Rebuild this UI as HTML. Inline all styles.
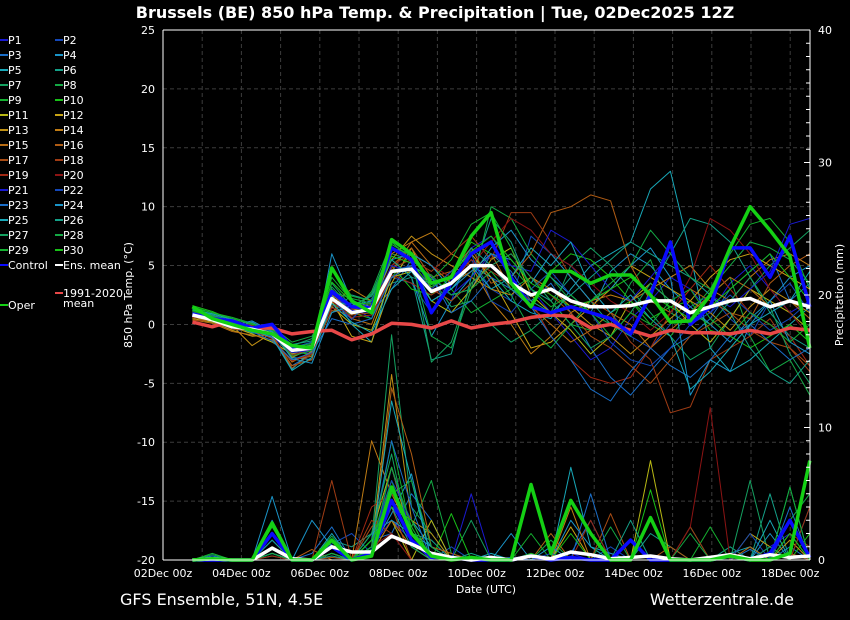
<!DOCTYPE html>
<html><head><meta charset="utf-8">
<style>
body{margin:0;background:#000;width:850px;height:620px;overflow:hidden;font-family:"Liberation Sans","DejaVu Sans",sans-serif;}
svg{position:absolute;left:0;top:0}
</style></head>
<body>
<svg id="chart" width="850" height="620" xmlns="http://www.w3.org/2000/svg">
<rect x="0" y="0" width="850" height="620" fill="#000"/>
<text x="435" y="18" fill="#fff" font-size="16" font-weight="bold" text-anchor="middle" font-family="DejaVu Sans, sans-serif">Brussels  (BE)  850 hPa Temp. &amp; Precipitation | Tue, 02Dec2025 12Z</text>
<g id="grid"></g>
<g id="series"></g>
<g id="axes"></g>
<g id="legend"></g>
<text x="132" y="295" fill="#fff" font-size="11" text-anchor="middle" transform="rotate(-90 132 295)" font-family="DejaVu Sans, sans-serif">850 hPa Temp. (°C)</text>
<text x="843" y="295" fill="#fff" font-size="11" text-anchor="middle" transform="rotate(-90 843 295)" font-family="DejaVu Sans, sans-serif">Precipitation (mm)</text>
<text x="486" y="593" fill="#fff" font-size="11" text-anchor="middle" font-family="DejaVu Sans, sans-serif">Date (UTC)</text>
<text x="120" y="605" fill="#fff" font-size="16" font-family="DejaVu Sans, sans-serif">GFS Ensemble, 51N, 4.5E</text>
<text x="794" y="605" fill="#fff" font-size="16" text-anchor="end" font-family="DejaVu Sans, sans-serif">Wetterzentrale.de</text>
</svg>
<script>
const xTickLabels=["02Dec 00z","04Dec 00z","06Dec 00z","08Dec 00z","10Dec 00z","12Dec 00z","14Dec 00z","16Dec 00z","18Dec 00z"];
const yTicks=[25,20,15,10,5,0,-5,-10,-15,-20];
const y2Ticks=[40,30,20,10,0];
const ensMean=[0.8,0.4,-0.2,-0.4,-0.8,-2.2,-2.0,2.2,1.0,1.3,4.5,4.7,2.8,3.5,5.0,5.0,3.5,2.5,3.0,2.0,1.5,1.5,1.6,2.0,2.0,1.0,1.5,2.0,2.2,1.5,2.0,1.5];
const control=[0.9,0.5,0.3,-0.3,0.0,-2.0,-2.0,2.8,1.5,1.4,6.5,5.5,1.0,3.5,6.0,7.0,4.0,1.5,1.0,1.5,1.0,0.5,-0.8,2.5,7.0,0.0,1.5,6.5,6.5,4.0,7.5,1.5];
const oper=[1.5,0.5,0.0,-0.5,-0.8,-1.8,-2.0,4.8,2.0,1.0,7.2,6.0,3.5,4.0,7.5,9.5,3.5,1.5,4.5,4.5,3.5,4.2,4.2,2.5,0.2,0.3,2.5,6.5,10.0,8.0,5.8,-2.0];
const clim=[0.2,-0.2,0.3,-0.3,-0.3,-0.8,-0.6,-0.5,-1.3,-0.8,0.1,0.0,-0.3,0.3,-0.3,0.0,0.2,0.6,0.8,0.7,-0.3,0.0,-0.5,-1.0,-0.5,-0.7,-0.7,-0.8,-0.5,-0.8,-0.3,-0.5];
const pert=[
[1.0,0.6,0.0,-0.2,-1.0,-2.5,-2.4,3.0,1.5,0.5,5.0,6.0,3.0,2.0,6.5,7.5,5.0,3.0,1.0,-1.0,-3.0,-2.0,0.5,2.0,4.0,3.0,1.0,3.5,5.0,3.0,1.0,2.0],
[0.7,0.3,-0.4,-0.6,-0.5,-2.0,-1.8,1.5,0.5,2.0,4.0,3.5,1.0,4.0,5.5,3.0,2.0,7.5,6.0,5.0,3.0,1.0,-1.0,-2.0,0.0,1.5,2.5,0.5,-1.0,2.0,3.5,1.0],
[0.9,0.5,0.2,-0.5,-1.2,-3.5,-2.5,2.0,1.8,1.0,3.0,5.5,4.0,2.5,3.0,6.0,4.5,2.0,3.5,1.0,-2.0,-4.5,-6.0,-4.0,-2.0,-1.0,0.5,3.0,4.5,6.0,2.0,3.5],
[0.8,0.2,-0.3,0.2,-0.8,-2.8,-3.0,6.0,2.0,1.5,5.5,4.0,-1.0,2.0,4.0,6.5,8.0,5.5,4.0,2.5,1.0,4.5,6.0,5.0,3.0,1.5,0.0,-1.5,0.5,2.0,4.0,5.0],
[0.6,0.4,-0.1,-0.7,-1.0,-3.8,-2.2,2.5,0.0,-1.5,4.5,5.0,2.0,3.0,5.0,4.0,2.0,1.0,0.5,3.0,5.0,6.0,7.0,11.5,13.0,6.0,-2.0,-4.0,-3.0,-1.5,0.0,1.5],
[1.2,0.8,0.3,-0.2,-0.6,-2.0,-1.5,1.0,2.5,2.0,3.5,4.0,-3.0,-2.5,4.0,9.0,7.0,3.0,2.0,4.0,2.0,0.0,-1.0,3.0,6.0,9.0,8.5,7.0,4.0,1.0,-1.0,-2.0],
[1.3,0.9,0.5,0.0,-0.4,-1.8,-1.2,3.5,1.5,2.5,6.0,5.5,4.0,1.5,2.0,0.0,-1.5,-0.5,1.0,5.0,6.5,5.0,3.0,1.0,-1.0,-3.0,-2.0,0.5,3.0,5.0,6.5,8.0],
[1.5,0.7,0.0,-0.3,-0.2,-1.5,-1.0,1.8,0.8,2.8,7.0,5.5,-1.0,-2.0,3.0,10.0,9.0,6.0,4.0,2.0,1.0,0.0,3.5,5.5,1.0,0.0,2.5,4.0,-1.0,-4.0,-3.0,-6.0],
[1.4,1.0,0.6,0.1,-0.6,-2.5,-1.8,4.0,2.0,1.0,4.0,6.0,5.0,3.0,1.0,2.0,3.0,4.0,2.0,0.0,-0.5,1.0,2.0,0.0,-1.0,1.0,3.0,6.0,8.5,9.0,7.0,3.0],
[1.6,1.1,0.4,-0.2,-0.5,-2.2,-2.6,3.0,1.0,0.5,5.0,3.0,2.5,4.0,7.0,6.0,5.0,3.0,4.5,6.0,5.5,4.0,2.0,0.5,1.5,2.0,-0.5,-1.0,-2.0,-1.0,0.0,-1.5],
[0.6,0.3,-0.2,-0.8,-1.5,-2.5,-2.0,1.5,0.0,-0.5,4.0,4.5,2.0,1.0,3.0,5.5,6.5,2.5,1.0,-0.5,-2.5,-1.0,2.0,3.5,2.0,0.0,-1.5,0.5,3.0,2.0,1.0,-0.5],
[0.5,0.2,-0.5,-1.0,-0.9,-2.0,-1.8,2.0,-1.0,-1.5,3.5,6.5,3.0,4.5,6.0,4.0,1.0,-2.0,-1.5,0.0,1.5,3.0,5.0,4.0,3.0,2.0,4.0,5.5,6.0,5.0,4.0,3.0],
[0.9,0.6,-0.1,-1.8,-0.7,-2.8,-2.0,2.5,1.2,1.6,5.5,7.5,6.0,5.0,4.0,3.0,2.5,4.0,3.0,1.5,0.0,-1.0,-2.5,-1.0,0.5,2.0,1.0,-0.5,1.5,3.0,2.0,1.0],
[0.8,0.5,0.0,-0.6,-1.1,-3.2,-2.3,1.8,3.0,2.0,6.0,7.0,7.8,6.0,5.0,2.0,0.0,-2.5,-1.0,1.0,2.0,2.5,2.0,3.0,4.0,5.0,3.0,2.0,4.0,5.5,6.0,5.0],
[0.4,0.1,-0.6,-0.9,-1.3,-3.0,-2.7,2.2,0.5,0.0,4.5,7.0,5.0,3.5,4.5,6.0,3.0,1.5,0.0,-1.5,-0.5,1.0,0.0,-2.0,-0.5,1.0,2.5,4.0,3.0,1.5,2.0,0.5],
[0.7,0.8,0.1,-0.4,-1.0,-3.5,-3.0,2.8,1.0,1.2,5.0,6.5,4.0,4.5,6.5,3.5,4.0,6.0,9.5,10.0,11.0,10.5,5.0,2.0,1.0,3.0,2.0,1.0,0.5,3.5,5.0,6.0],
[0.3,0.4,-0.4,-0.5,-0.8,-3.7,-2.5,1.2,0.8,1.0,4.0,5.0,3.0,2.0,3.5,5.0,6.0,4.0,2.5,1.0,-1.0,-2.0,-3.5,-5.0,-3.0,-1.0,0.0,1.0,-0.5,-1.5,-2.0,-3.5],
[1.0,0.7,0.2,-0.1,-0.7,-2.6,-2.1,1.6,1.3,1.8,4.8,5.5,4.5,6.0,7.5,5.5,9.5,9.5,7.0,4.0,2.0,1.0,-1.5,-3.0,-7.5,-7.0,-3.0,-2.0,-1.0,0.5,-2.0,-4.0],
[0.6,0.4,0.0,-0.5,-1.2,-3.1,-2.5,2.0,0.6,0.8,4.2,3.5,2.5,3.5,5.5,4.5,3.5,2.0,-1.0,-3.0,-4.5,-5.0,-4.5,-2.0,1.0,3.0,5.0,3.0,1.0,0.0,-1.0,-3.5],
[1.1,0.6,-0.2,-0.3,-0.9,-2.3,-2.0,1.4,1.0,1.5,5.0,6.0,5.0,4.0,5.0,7.0,9.0,8.0,6.0,5.0,3.5,2.0,1.0,-0.5,1.0,4.0,9.0,8.0,6.0,3.0,1.0,-1.0],
[0.9,0.3,-0.3,-0.5,-1.0,-2.4,-2.2,2.6,1.2,1.0,5.0,4.5,3.5,2.5,4.0,6.0,5.0,4.5,8.0,7.0,5.0,3.0,2.0,4.0,6.0,4.0,2.5,1.5,3.0,4.5,8.5,9.0],
[0.7,0.5,0.1,-0.4,-0.6,-2.0,-1.5,2.2,0.4,2.2,4.6,5.0,3.0,4.5,6.0,2.0,1.0,3.0,4.5,2.5,1.0,-1.5,-3.0,-3.5,-2.0,0.0,1.0,2.5,1.0,-0.5,0.5,2.0],
[0.8,0.6,0.0,-0.6,-1.4,-3.0,-2.4,0.5,0.0,0.5,4.0,5.0,4.0,1.0,2.0,4.0,3.0,1.5,-1.0,-3.0,-5.5,-6.5,-4.0,-2.0,-3.5,-4.5,-3.0,-1.0,0.0,-1.5,-3.0,-2.0],
[1.0,0.4,-0.1,0.3,-0.6,-2.9,-3.3,1.0,1.6,2.0,5.5,6.0,5.0,3.0,4.5,6.0,5.5,3.5,6.0,4.0,2.0,3.0,5.0,6.5,4.0,-6.0,-3.0,-4.0,0.0,2.0,-1.5,-2.5],
[1.2,0.9,0.4,-0.5,-1.1,-3.9,-2.8,1.8,0.2,-0.7,3.0,4.5,2.0,3.0,5.0,3.0,4.0,6.5,5.0,7.0,3.0,1.0,2.5,0.5,-1.0,-5.5,-4.0,-2.0,0.0,1.0,2.0,4.5],
[1.3,0.8,0.3,-0.4,-0.3,-1.7,-1.4,2.0,1.6,2.4,5.5,4.0,3.5,4.0,6.5,5.0,3.0,2.0,1.0,2.5,4.0,5.5,7.0,6.0,5.0,4.0,2.5,1.0,-2.0,-4.0,-5.0,-3.0],
[1.4,0.7,0.2,-0.2,-0.8,-2.1,-1.7,3.2,1.4,2.6,6.5,6.0,-3.2,-1.5,3.5,5.0,6.0,4.0,2.0,0.0,-2.0,-1.0,1.0,3.5,2.0,1.0,0.0,2.0,4.0,1.5,-2.5,-5.0],
[1.1,0.5,-0.1,-0.3,-0.7,-2.7,-2.2,2.8,2.2,1.8,4.4,4.8,4.2,2.5,3.0,4.5,2.5,-0.5,-2.0,0.0,2.0,3.5,5.0,8.0,6.0,4.0,3.0,5.0,7.0,6.5,5.5,3.5],
[1.5,1.0,0.5,0.0,-0.5,-2.0,-1.6,4.8,2.4,2.0,6.8,5.8,3.8,5.5,8.5,9.5,6.5,3.0,1.5,2.5,1.0,-1.0,1.0,0.0,2.0,3.0,0.5,-1.0,1.0,0.0,-1.5,0.0],
[1.2,0.6,0.1,-0.5,-0.9,-2.2,-1.9,3.6,1.9,1.7,5.8,5.2,3.2,4.2,6.2,7.5,5.5,3.5,2.5,1.5,2.0,3.0,4.0,2.5,1.5,0.5,1.5,3.0,4.5,6.0,4.0,2.0]
];
const precMean=[0,0.1,0,0,0.9,0.1,0,1.0,0.6,0.6,1.8,1.2,0.5,0.2,0,0.2,0,0.3,0.1,0.6,0.4,0.1,0.2,0.3,0.1,0,0.2,0.4,0.1,0.4,0.2,0.3];
const precControl=[0,0,0,0,2.0,0,0,1.0,0,0.5,4.5,1.5,0.2,0.2,0,0,0,0.3,0,0.2,0,0,1.5,0,0,0,0,0.3,0,0.5,3.0,0.2];
const precOper=[0,0.1,0,0,2.8,0,0,1.5,0,0.3,5.5,2.0,0.3,0,0.2,0,0,5.7,0.5,4.5,2.0,0,0,3.2,0,0,0,0.3,0,0,0.5,7.5];
const precPert=[
[0,0,0,0,1.5,0,0,0.5,0,1,3,1.5,0,0,0,0,0,0,0,0.5,0,0,0,0,0,0,0,0,0,1,2,0],
[0,0,0,0,0.5,0,0,1.2,2,0.5,4,2,0,1,0,0,0,0.5,0,0,0,1,0,0,0,0,0,0,0,0,0.5,0],
[0,0.3,0,0,1,0,0.5,2.5,0,1.5,2,5,3,0,0,0,0.2,0,0,0.5,3,0,0,0,0,0,0,0,0.8,0,1,0],
[0,0,0,0,4.8,0,3,1,0,0.8,3.5,6.5,0,0,0,0,2,0,0,3,1,0.5,0,0,0,0,0,0,0,2,0,0],
[0,0,0,0,2,0,0,2,0,1,5,3,1,0,0,0.5,0,0,0,7,1,0,0,0,0,0,0,0.5,1,0,0,0],
[0,0.1,0,0,0.5,0,0,1.5,1,2,7,2,1.5,0,0.5,0,0,0,0,0.2,0,0,0,2,1,0,0,1,0,5,0,4],
[0,0.4,0,0,1.5,0,0,1,0,1.5,17,4,2,0,3,0,0,0,0,0,0,0,0,0,0,2.5,0,0,6,0,2,0],
[0,0,0,0,0.3,0,0,1.8,0,0.8,4.5,2.5,6,0.5,0,0,0,0,1.5,0,0,2.5,0,0,0,0,0,0,0,0,3,5],
[0,0,0,0,0.5,0,0,0.5,0,1,9,2,0.5,0,0,0,0,2,0,0,0,0,0,0,0,0,2.5,0,0,0,5.5,0],
[0,0.2,0,0,2.5,0,0,1.5,0,1.5,6,1.5,0,3.5,0,0,0,0,0,0,0,0,0,5.3,0,0,0,0,0,0,0,2],
[0,0,0,0,0,0,0,1,0,0.5,3,0,3,0,0,0,0,0,0,0,0,0,0,7.5,0,0,0,0,0,0,0,0],
[0,0,0,0,0.8,0,0,0,0,2,7,1.5,0,0,0,0,0,0,0,2.5,0,0,0,0,0,0,0,0,2,1,0,0],
[0,0,0,0,1,0,0,0.5,0,1,14,3,2,0,0,0,0,0,0,0,0,0,0,0,0,0,0,0,0,0,1.5,0],
[0,0,0,0,0.5,0,0,0,0,9,5,2,0.5,0,0,0,0,0,0,4,0,0,0,0,0,0,0,0.5,0,0,0,0],
[0,0,0,0,0,0,0,0.5,0,0.5,3,1,0,0,0,0,0,0,2,0,0,0,0,0,0,0,0,0,1,0,0,0],
[0,0,0,0,1,0,0.8,0,0,0.5,13,8,1,0.5,0,0,0,0,0,0,0,0,0,0,1,0,0,0,0,0,0.5,0],
[0,0,0,0,0,0,0,0.2,0,2.5,4,0,0,0,0,0,0,0,0,0,0,3.5,0,0,0,0,0,0,0,0,0,0],
[0,0,0,0,0,0,0,6,0,3,2,0,0,0,0,0,0,0,0,0,0,0,0,0,0,2.5,0,0,0,0,2,1],
[0,0,0,0,0.3,0,0,0,0,4,5,3,0,0,0,0,0,0,0,0,3,0,0,0,0,0,0,0,0,0,0,4],
[0,0,0,0,0,0,0,0,0,1,2,0,0,0,0,0,0,0,0,0,0,0,0,0,0,2.5,11.5,0,0,0,0,0],
[0,0,0,0,1.5,0,0,1.5,0,0.5,7,2,0,0,5,0,0,0,0,0,0,0,0,0,0,0,0,0,0,0,3,0],
[0,0,0,0,0.5,0,0,0.5,0,1,6,3,0,0,0,0,0,0,0.5,0,0,0,0,0,0,0,0,0,2,0,0,0],
[0,0,0,0,0.8,0,0,1,0,1.5,9,4,0,0,0,0,0,0,0,0,5,0,0,0,0,0,0,0,0,0,4,0],
[0,0,0,0,3,0,0,0.5,0,2,3,2,1,0,0,0,0,0,1,0,0,0,0,0,0,0,0,0,0,0,0,0],
[0,0,0,0,0.5,0,0,1,0,1,12,6,0,0,0,0,0,0,0,0,0,0,0,0,0,0,0,0,0,3,0,0],
[0,0,0,0,1.5,0,0,0.3,0,2,4,1,0,0,0,0,0,0,0,0,0,0,3,0,0,0,0,0,0,0,0,0],
[0,0,0,0,0,0,0,1,0,2,8,1,0,0,0,0,0,0.2,0,0,0,0,0,0,0,0,0,0,0,1,0,0],
[0,0,0,0,0.5,0,0,1.5,0,1.5,5,6,1,0,0,0,0,0,0,0,0,0,0,0,0,2,0,0,0,0,5.5,0],
[0,0.5,0,0,2,0,0,0.5,0,1,7,2.5,0,0,0,0,0,0,0,0,0,0,0,0,0,0,0,0,0,0,0,0],
[0,0,0,0,1,0,0,1,0,1.5,4,3,0,0,0,0,0,0.5,0,2,0,0,0,0,0,0,0,0,0,0,2,0]
];
const pertColors=["#1a1ad0","#1448b8","#1a6ec8","#1a94c8","#18a8b8","#14a088","#14a060","#14a844","#14b030","#18c018","#b8b814","#c8a414","#c09014","#c07c14","#b86c14","#b05c14","#a84c14","#a03c14","#a02814","#8c1414"];
const legendLabels=["P1","P2","P3","P4","P5","P6","P7","P8","P9","P10","P11","P12","P13","P14","P15","P16","P17","P18","P19","P20","P21","P22","P23","P24","P25","P26","P27","P28","P29","P30"];

const NS="http://www.w3.org/2000/svg";
const X0=163,X1=810,Y0=30,Y1=560,PXDAY=39.2;
const xT=t=>X0+t*PXDAY;
const yT=v=>Y1-(v+20)*(Y1-Y0)/45;
const yP=v=>Y1-v*(Y1-Y0)/40;
const tAt=i=>0.75+i*(15.75/31);
function mk(tag,attrs,parent){const e=document.createElementNS(NS,tag);for(const k in attrs)e.setAttribute(k,attrs[k]);parent.appendChild(e);return e;}
const grid=document.getElementById('grid'),ser=document.getElementById('series'),axes=document.getElementById('axes'),leg=document.getElementById('legend');

for(let d=1;d<=16;d++){const l=mk('line',{x1:xT(d),x2:xT(d),y1:Y0,y2:Y1,stroke:'#3c3c3c','stroke-dasharray':'4,3'},grid);

}
yTicks.forEach(v=>{if(v===25||v===-20)return;const l=mk('line',{x1:X0,x2:X1,y1:yT(v),y2:yT(v),stroke:'#3c3c3c','stroke-dasharray':'4,3'},grid);

});

function poly(arr,yf,color,w,name){const pts=arr.map((v,i)=>xT(tAt(i)).toFixed(1)+','+yf(v).toFixed(1)).join(' ');
const p=mk('polyline',{points:pts,fill:'none',stroke:color,'stroke-width':w,'stroke-linejoin':'round'},ser);

}
pert.forEach((s,k)=>poly(s,yT,pertColors[k%20],1,'temp-line-'+legendLabels[k].toLowerCase()));
precPert.forEach((s,k)=>poly(s,yP,pertColors[k%20],1,'precip-line-'+legendLabels[k].toLowerCase()));
poly(clim,yT,'#e84848',3.5,'temp-line-climatology');
poly(control,yT,'#0a0aff',3.5,'temp-line-control');
poly(precControl,yP,'#0a0aff',3.5,'precip-line-control');
poly(ensMean,yT,'#ffffff',3.5,'temp-line-ens-mean');
poly(precMean,yP,'#ffffff',3.5,'precip-line-ens-mean');
poly(oper,yT,'#14d014',3.5,'temp-line-oper');
poly(precOper,yP,'#14d014',3.5,'precip-line-oper');

// frame
[[X0,Y0,X0,Y1],[X0,Y0,X1,Y0],[X1,Y0,X1,Y1],[X0,Y1,X1,Y1]].forEach(c=>{const l=mk('line',{x1:c[0],y1:c[1],x2:c[2],y2:c[3],stroke:'#fff','stroke-width':1},axes);

});
yTicks.forEach(v=>{const t=mk('text',{x:155,y:yT(v)+4,fill:'#fff','font-size':11,'text-anchor':'end','font-family':'DejaVu Sans, sans-serif'},axes);t.textContent=v;

});
for(let m=0;m<=40;m++){const l=mk('line',{x1:X1,x2:X1-(m%10===0?6:4),y1:yP(m),y2:yP(m),stroke:'#fff'},axes);

}
y2Ticks.forEach(v=>{const t=mk('text',{x:818,y:yP(v)+4,fill:'#fff','font-size':11,'font-family':'DejaVu Sans, sans-serif'},axes);t.textContent=v;

});
xTickLabels.forEach((s,i)=>{const t=mk('text',{x:xT(i*2),y:577,fill:'#fff','font-size':11,'text-anchor':'middle','font-family':'DejaVu Sans, sans-serif'},axes);t.textContent=s;

});

// legend
function legItem(x,y,color,label,name){const g=mk('g',{},leg);


mk('line',{x1:x,x2:x+8,y1:y,y2:y,stroke:color,'stroke-width':2},g);
const t=mk('text',{x:x+8,y:y+4,fill:'#fff','font-size':11,'font-family':'DejaVu Sans, sans-serif'},g);t.textContent=label;return t;}
legendLabels.forEach((lab,k)=>{legItem(k%2?55:0,40+Math.floor(k/2)*15,pertColors[k%20],lab,'legend-entry-'+lab.toLowerCase());});
legItem(0,265,'#0a0aff','Control','legend-entry-control');
legItem(55,265,'#ffffff','Ens. mean','legend-entry-ens-mean');
const ct=legItem(55,293,'#e84848','1991-2020','legend-entry-climatology');
const t2=mk('text',{x:63,y:307,fill:'#fff','font-size':11,'font-family':'DejaVu Sans, sans-serif'},leg);t2.textContent='mean';


legItem(0,305,'#14d014','Oper','legend-entry-oper');
</script>
</body></html>
